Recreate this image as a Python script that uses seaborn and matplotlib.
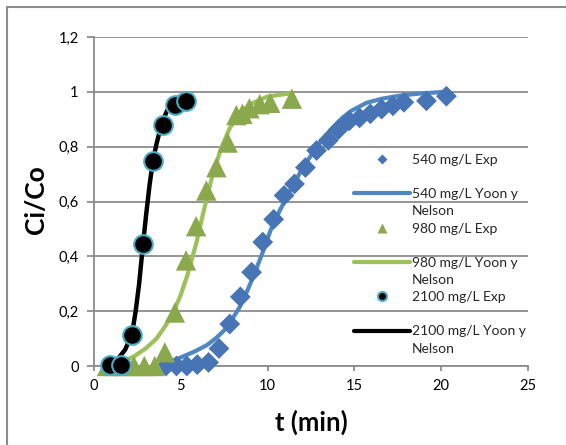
import numpy as np
import pandas as pd
import matplotlib
matplotlib.use("Agg")
import matplotlib.pyplot as plt
from matplotlib.lines import Line2D
from matplotlib.patches import Rectangle
import seaborn as sns

# Experimental breakthrough data, C/C0 vs time (min)
t_540 = [4.15, 4.75, 5.35, 5.95, 6.6, 7.2, 7.82, 8.43, 9.08, 9.72, 10.35, 10.95, 11.55,
         12.18, 12.82, 13.5, 14.07, 14.7, 15.3, 15.92, 16.57, 17.22, 17.85, 19.15, 20.3]
c_540 = [0.0, 0.0, 0.0, 0.005, 0.013, 0.064, 0.153, 0.252, 0.342, 0.452, 0.535, 0.622, 0.664,
         0.724, 0.786, 0.823, 0.862, 0.894, 0.905, 0.92, 0.937, 0.949, 0.962, 0.967, 0.984]

t_980 = [0.75, 1.2, 1.75, 2.3, 2.9, 3.5, 4.08, 4.66, 5.3, 5.88, 6.47, 7.05, 7.7,
         8.2, 8.55, 8.95, 9.55, 10.15, 11.4]
c_980 = [0.0, 0.0, 0.0, 0.0, 0.0, 0.0, 0.05, 0.195, 0.385, 0.51, 0.64, 0.725, 0.815,
         0.915, 0.92, 0.94, 0.955, 0.96, 0.975]

t_2100 = [0.94, 1.58, 2.2, 2.8, 3.41, 3.99, 4.68, 5.28]
c_2100 = [0.004, 0.004, 0.114, 0.444, 0.747, 0.88, 0.953, 0.967]

# Yoon-Nelson model curves
tm_540 = [3.9, 4.5, 5.1, 5.8, 6.5, 7.0, 7.5, 8.0, 8.4, 8.8, 9.2, 9.75, 10.2, 10.7, 11.3,
          12.0, 12.8, 13.3, 13.8, 14.3, 14.8, 15.7, 16.6, 17.6, 18.8, 20.2]
cm_540 = [0.003, 0.018, 0.034, 0.053, 0.076, 0.1, 0.13, 0.175, 0.216, 0.27, 0.33, 0.42,
          0.5, 0.567, 0.64, 0.72, 0.797, 0.838, 0.872, 0.905, 0.93, 0.96, 0.975, 0.986,
          0.994, 1.0]

tm_980 = [0.75, 1.5, 2.3, 3.0, 3.6, 4.1, 4.6, 5.0, 5.4, 5.9, 6.3, 6.8, 7.3, 7.8, 8.3,
          9.0, 10.0, 11.4]
cm_980 = [0.0, 0.012, 0.035, 0.065, 0.1, 0.145, 0.2, 0.26, 0.335, 0.45, 0.56, 0.69, 0.79,
          0.865, 0.915, 0.955, 0.983, 0.995]

tm_2100 = [0.85, 1.3, 1.8, 2.2, 2.4, 2.6, 2.8, 3.0, 3.2, 3.4, 3.6, 3.8, 4.0, 4.2, 4.6,
           5.0, 5.3]
cm_2100 = [0.0, 0.02, 0.06, 0.12, 0.2, 0.3, 0.43, 0.55, 0.66, 0.75, 0.81, 0.86, 0.9,
           0.93, 0.965, 0.985, 0.99]

y_ticks = [0.0, 0.2, 0.4, 0.6, 0.8, 1.0, 1.2]
y_tick_labels = ["0", "0,2", "0,4", "0,6", "0,8", "1", "1,2"]
x_ticks = [0, 5, 10, 15, 20, 25]

BLUE_M, BLUE_L = "#4674b4", "#4f86c6"
GREEN_M, GREEN_L = "#8aa84c", "#9bc15a"
TEAL = "#4bacc6"
GRID = "#8c8c8c"

sns.set_theme(style="white")
plt.rcParams["font.family"] = ["Lato", "DejaVu Sans"]

fig = plt.figure(figsize=(5.66, 4.45), dpi=100)
W, H = 566, 445
ax = fig.add_axes([94 / W, 1 - 366 / H, (528 - 94) / W, (366 - 37) / H])

# chart-area frame
fig.patches.append(Rectangle((6.5 / W, -0.2), 1.2, 1.2 - 6.5 / H,
                             transform=fig.transFigure, fill=False,
                             edgecolor=GRID, lw=1.5, zorder=0))

# model curves
for tt, cc, col, lw in [(tm_540, cm_540, BLUE_L, 3.0),
                        (tm_980, cm_980, GREEN_L, 3.0),
                        (tm_2100, cm_2100, "black", 3.2)]:
    df = pd.DataFrame({"t": tt, "c": cc})
    sns.lineplot(data=df, x="t", y="c", sort=False, estimator=None, color=col,
                 lw=lw, ax=ax, zorder=3, solid_capstyle="round", solid_joinstyle="round")

# experimental points
sns.scatterplot(x=t_540, y=c_540, marker="D", s=112, color=BLUE_M, edgecolor="none",
                ax=ax, zorder=4, clip_on=False)
sns.scatterplot(x=t_980, y=c_980, marker="^", s=215, color=GREEN_M, edgecolor="none",
                ax=ax, zorder=4, clip_on=False)
sns.scatterplot(x=t_2100, y=c_2100, marker="o", s=180, color="black", edgecolor=TEAL,
                linewidth=1.5, ax=ax, zorder=5, clip_on=False)

ax.set_xlim(0, 25)
ax.set_ylim(0, 1.2)
ax.set_xticks(x_ticks)
ax.set_xticklabels([str(v) for v in x_ticks])
ax.set_yticks(y_ticks)
ax.set_yticklabels(y_tick_labels)
ax.yaxis.grid(True, color=GRID, lw=1.3)
ax.xaxis.grid(False)
ax.set_axisbelow(True)
for s in ["top", "right"]:
    ax.spines[s].set_visible(False)
for s in ["left", "bottom"]:
    ax.spines[s].set_color(GRID)
    ax.spines[s].set_linewidth(1.3)
ax.tick_params(axis="y", left=True, length=5, width=1.3, color=GRID, pad=6,
               labelsize=10.5, labelcolor="black")
ax.tick_params(axis="x", bottom=True, length=3.5, width=1.3, color=GRID, pad=6,
               labelsize=10.5, labelcolor="black")

ax.set_xlabel("t (min)", fontsize=18.5, fontweight="bold", color="black")
ax.set_ylabel("Ci/Co", fontsize=19, fontweight="bold", color="black")
ax.xaxis.label.set_va("center")
ax.yaxis.label.set_va("center")
ax.xaxis.set_label_coords(0.5, (366 - 422) / 329)
ax.yaxis.set_label_coords((36 - 94) / 434, (366 - 200) / 329)

# legend: one row per text line, blank rows keep the spacing
blank = Line2D([], [], linestyle="none", marker=None)
handles = [
    Line2D([], [], linestyle="none", marker="D", ms=5, color=BLUE_M, mec="none"),
    blank,
    Line2D([], [], color=BLUE_L, lw=3),
    blank,
    Line2D([], [], linestyle="none", marker="^", ms=7.5, color=GREEN_M, mec="none"),
    blank,
    Line2D([], [], color=GREEN_L, lw=3),
    blank,
    Line2D([], [], linestyle="none", marker="o", ms=6.5, color="black", mec=TEAL, mew=1.5),
    blank,
    Line2D([], [], color="black", lw=3),
    blank,
]
labels = ["540 mg/L Exp", " ", "540 mg/L Yoon y", "Nelson",
          "980 mg/L Exp", " ", "980 mg/L Yoon y", "Nelson",
          "2100 mg/L Exp", " ", "2100 mg/L Yoon y", "Nelson"]
ax.legend(handles, labels, loc="upper left", bbox_to_anchor=(354 / W, 1 - 154 / H),
          bbox_transform=fig.transFigure, frameon=False, fontsize=10,
          handlelength=4.0, handletextpad=0.15, labelspacing=0.37,
          borderpad=0, borderaxespad=0)

fig.savefig("out.png", dpi=100, facecolor="white")
